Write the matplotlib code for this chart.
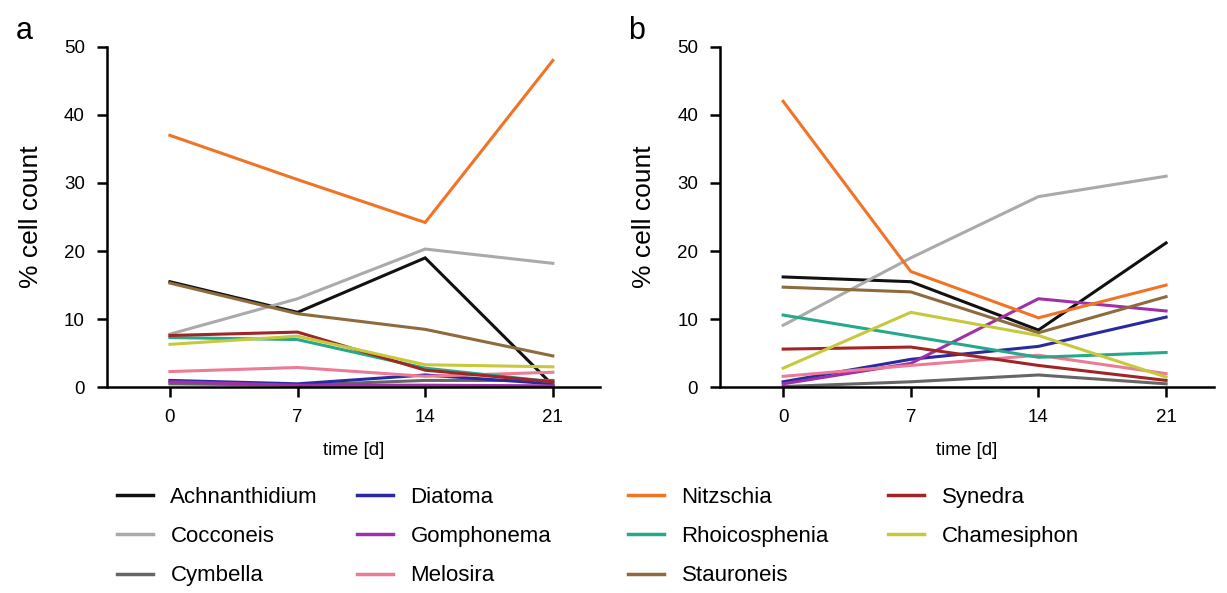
import matplotlib.pyplot as plt
from matplotlib.lines import Line2D

plt.rcParams['font.family'] = ['Liberation Sans', 'DejaVu Sans']

# --- data ---
days = [0, 7, 14, 21]
taxa = ['Achnanthidium', 'Cocconeis', 'Cymbella', 'Diatoma', 'Gomphonema',
        'Melosira', 'Nitzschia', 'Rhoicosphenia', 'Stauroneis', 'Synedra',
        'Chamesiphon']
colors = ['#111111', '#aaaaaa', '#666666', '#2a2aa0', '#a030a8',
          '#ec7c96', '#f07426', '#26a88a', '#8f6a3c', '#a02626', '#c8c83c']

panel_a = {
    'Achnanthidium': [15.5, 11.0, 19.0, 0.3],
    'Cocconeis':     [7.8, 13.0, 20.3, 18.2],
    'Cymbella':      [0.5, 0.3, 1.0, 1.0],
    'Diatoma':       [1.0, 0.5, 1.8, 0.5],
    'Gomphonema':    [0.8, 0.3, 0.3, 0.2],
    'Melosira':      [2.3, 2.9, 1.6, 2.2],
    'Nitzschia':     [37.0, 30.5, 24.2, 48.0],
    'Rhoicosphenia': [7.3, 7.0, 2.8, 0.8],
    'Stauroneis':    [15.3, 10.8, 8.5, 4.6],
    'Synedra':       [7.6, 8.1, 2.5, 0.8],
    'Chamesiphon':   [6.3, 7.5, 3.3, 3.0],
}
panel_b = {
    'Achnanthidium': [16.2, 15.5, 8.4, 21.2],
    'Cocconeis':     [9.1, 19.0, 28.0, 31.0],
    'Cymbella':      [0.1, 0.8, 1.8, 0.5],
    'Diatoma':       [0.8, 4.1, 6.0, 10.3],
    'Gomphonema':    [0.5, 3.5, 13.0, 11.2],
    'Melosira':      [1.6, 3.2, 4.7, 2.0],
    'Nitzschia':     [42.0, 17.0, 10.2, 15.0],
    'Rhoicosphenia': [10.6, 7.5, 4.4, 5.1],
    'Stauroneis':    [14.7, 14.0, 8.0, 13.3],
    'Synedra':       [5.6, 5.9, 3.2, 1.0],
    'Chamesiphon':   [2.8, 11.0, 7.6, 1.5],
}

fig = plt.figure(figsize=(12.27, 5.93), dpi=100)
ax_a = fig.add_axes([0.0872, 0.347, 0.402, 0.574])
ax_b = fig.add_axes([0.587, 0.347, 0.402, 0.574])

for ax, data, lab, lx in [(ax_a, panel_a, 'a', 0.013), (ax_b, panel_b, 'b', 0.512)]:
    for name, col in zip(taxa, colors):
        ax.plot(days, data[name], color=col, lw=2.2, solid_joinstyle='miter')
    ax.set_xlim(-3.45, 23.6)
    ax.set_ylim(0, 50)
    ax.set_xticks(days)
    ax.set_yticks([0, 10, 20, 30, 40, 50])
    ax.spines['top'].set_visible(False)
    ax.spines['right'].set_visible(False)
    ax.spines['left'].set_linewidth(1.8)
    ax.spines['bottom'].set_linewidth(1.8)
    ax.tick_params(width=1.8, length=7, labelsize=13.5, direction='out', pad=9)
    ax.set_xlabel('time [d]', fontsize=13.5, labelpad=11)
    ax.set_ylabel('% cell count', fontsize=19, labelpad=15)
    fig.text(lx, 0.948, lab, fontsize=22, va='center')

# legend, one column at a time (3, 3, 3, 2 entries)
handles = [Line2D([0], [0], color=c, lw=2.5) for c in colors]
col_x = [0.0954, 0.291, 0.512, 0.724]
for i, x in enumerate(col_x):
    sl = slice(3 * i, 3 * i + 3)
    fig.legend(handles[sl], taxa[sl], loc='upper left', bbox_to_anchor=(x, 0.179),
               frameon=False, fontsize=16, handlelength=1.6, handletextpad=0.8,
               labelspacing=0.82, borderpad=0, borderaxespad=0)

fig.savefig('out.png', dpi=100)
